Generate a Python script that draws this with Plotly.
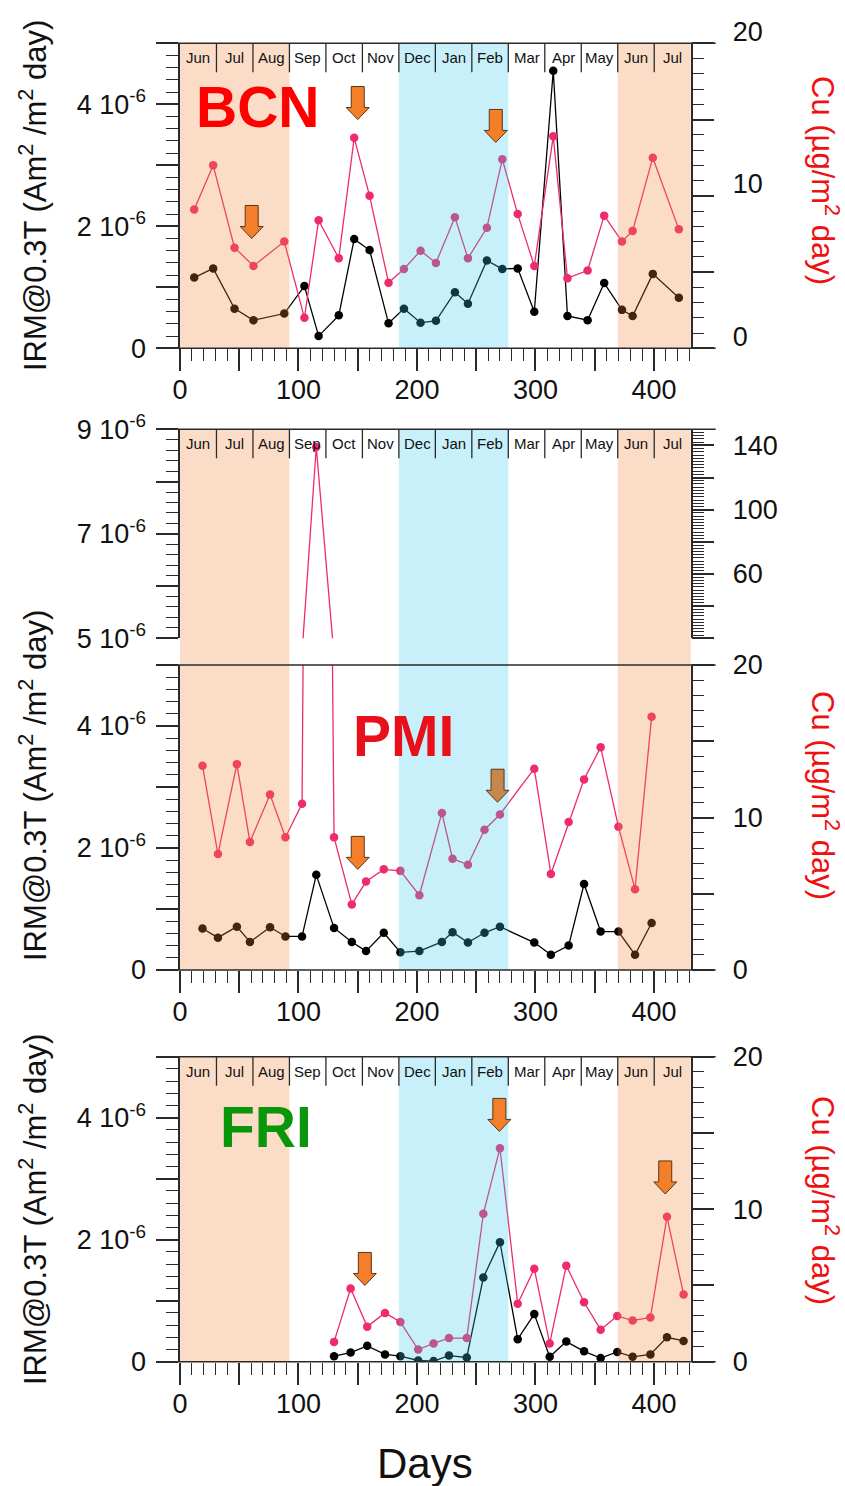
import plotly.graph_objects as go

# ---------------- data ----------------
months = ["Jun", "Jul", "Aug", "Sep", "Oct", "Nov", "Dec", "Jan", "Feb", "Mar", "Apr", "May", "Jun", "Jul"]
x_max = 431

bcn_days = [12, 28, 46, 62, 88, 105, 117, 134, 147, 160, 176, 189, 203, 216, 232, 243, 259, 272, 285, 299,
            315, 327, 344, 358, 373, 382, 399, 421]
bcn_irm = [1.16e-6, 1.31e-6, 0.65e-6, 0.46e-6, 0.57e-6, 1.02e-6, 0.20e-6, 0.54e-6, 1.79e-6, 1.61e-6,
           0.41e-6, 0.65e-6, 0.42e-6, 0.45e-6, 0.92e-6, 0.73e-6, 1.44e-6, 1.30e-6, 1.31e-6, 0.60e-6,
           4.55e-6, 0.53e-6, 0.46e-6, 1.07e-6, 0.63e-6, 0.53e-6, 1.22e-6, 0.83e-6]
bcn_cu = [9.1, 12.0, 6.6, 5.4, 7.0, 2.0, 8.4, 5.9, 13.8, 10.0, 4.3, 5.2, 6.4, 5.6, 8.6, 5.9, 7.9, 12.4,
          8.8, 5.4, 13.9, 4.6, 5.1, 8.7, 7.0, 7.7, 12.5, 7.8]

pmi_days = [19, 32, 48, 59, 76, 89, 103, 115, 130, 145, 157, 172, 186, 202, 221, 230, 243, 257, 270,
            299, 313, 328, 341, 355, 370, 384, 398]
pmi_irm = [0.68e-6, 0.53e-6, 0.71e-6, 0.46e-6, 0.70e-6, 0.55e-6, 0.55e-6, 1.56e-6, 0.69e-6, 0.46e-6,
           0.31e-6, 0.61e-6, 0.29e-6, 0.31e-6, 0.46e-6, 0.62e-6, 0.45e-6, 0.61e-6, 0.71e-6, 0.45e-6,
           0.25e-6, 0.40e-6, 1.41e-6, 0.63e-6, 0.63e-6, 0.25e-6, 0.77e-6]
pmi_cu = [13.4, 7.6, 13.5, 8.4, 11.5, 8.7, 10.9, 139.0, 8.7, 4.3, 5.8, 6.6, 6.5, 4.9, 10.3, 7.3, 6.9,
          9.2, 10.2, 13.2, 6.3, 9.7, 12.5, 14.6, 9.4, 5.3, 16.6]

fri_days = [130, 144, 158, 173, 186, 201, 214, 227, 242, 256, 270, 285, 299, 312, 326, 341, 355, 369,
            382, 397, 411, 425]
fri_irm = [0.09e-6, 0.15e-6, 0.26e-6, 0.12e-6, 0.09e-6, 0.02e-6, 0.01e-6, 0.10e-6, 0.07e-6, 1.38e-6,
           1.96e-6, 0.37e-6, 0.78e-6, 0.08e-6, 0.33e-6, 0.17e-6, 0.06e-6, 0.16e-6, 0.08e-6, 0.12e-6,
           0.40e-6, 0.34e-6]
fri_cu = [1.3, 4.8, 2.3, 3.2, 2.6, 0.8, 1.2, 1.55, 1.55, 9.7, 14.0, 3.8, 6.1, 1.2, 6.3, 3.9, 2.1, 3.0,
          2.7, 2.9, 9.5, 4.4]

# tick values / labels
x_long = [0, 50, 100, 150, 200, 250, 300, 350, 400]
x_lab = [0, 100, 200, 300, 400]
irm_long = [0, 1e-6, 2e-6, 3e-6, 4e-6, 5e-6]
irm_lab = [0, 2e-6, 4e-6]
irm_lab_text = ["0", "2 10<sup>-6</sup>", "4 10<sup>-6</sup>"]
irm_up_long = [5e-6, 6e-6, 7e-6, 8e-6, 9e-6]
irm_up_lab = [5e-6, 7e-6, 9e-6]
irm_up_lab_text = ["5 10<sup>-6</sup>", "7 10<sup>-6</sup>", "9 10<sup>-6</sup>"]
cu_long = [0, 5, 10, 15, 20]
cu_lab = [0, 10, 20]
cu_up_long = [20, 40, 60, 80, 100, 120, 140]
cu_up_lab = [60, 100, 140]

# season bands as month index ranges [start, end)
summer_bands = [(0, 3), (12, 14)]
winter_bands = [(6, 9)]

# arrow markers (day, Cu value of tip) per panel
bcn_arrows = [(60.5, 7.2), (150, 15.0), (266.5, 13.5)]
pmi_arrows = [(150, 6.6)]
pmi_arrows_brown = [(268, 11.0)]
fri_arrows = [(156, 5.0), (269.5, 15.1), (409.5, 11.0)]

# ---------------- geometry ----------------
W, H = 845, 1486
X0, X1 = 180.0, 690.7
BCN = (43.3, 348.3)
PMIU = (429.3, 638.3)
PMIL = (665.0, 970.0)
FRI = (1056.7, 1361.7)
MONTH_W = x_max / len(months)


def px(x):
    return x / W


def py(y):
    return 1 - y / H


def day_px(d):
    return X0 + d * (X1 - X0) / x_max


def cu_py(v, panel, lo=0.0, hi=20.0):
    top, bot = panel
    return bot - (v - lo) / (hi - lo) * (bot - top)


FONT = "Arial, Liberation Sans, Helvetica, sans-serif"
PINK = "#EE2B6C"
AX = "#2a2a2a"
TICKFONT = dict(family=FONT, size=27, color="#111")

fig = go.Figure()


def add_pair(days, irm, cu, xa, ya_l, ya_r):
    fig.add_trace(go.Scatter(x=days, y=cu, xaxis=xa, yaxis=ya_r, mode="lines+markers",
                             line=dict(color=PINK, width=1.3), marker=dict(size=8.5, color=PINK),
                             showlegend=False, hoverinfo="skip"))
    fig.add_trace(go.Scatter(x=days, y=irm, xaxis=xa, yaxis=ya_l, mode="lines+markers",
                             line=dict(color="black", width=1.3), marker=dict(size=8.5, color="black"),
                             showlegend=False, hoverinfo="skip"))


add_pair(bcn_days, bcn_irm, bcn_cu, "x", "y", "y2")
add_pair(pmi_days, pmi_irm, pmi_cu, "x2", "y3", "y4")
add_pair(pmi_days, pmi_irm, pmi_cu, "x3", "y5", "y6")
add_pair(fri_days, fri_irm, fri_cu, "x4", "y7", "y8")

xdom = [px(X0), px(X1)]
BASE = dict(showgrid=False, zeroline=False, automargin=False)


def xaxis(anchor, visible=True):
    return dict(BASE, domain=xdom, anchor=anchor, range=[0, x_max], showline=False, visible=visible,
                tickmode="array", tickvals=x_long, showticklabels=False,
                ticks="outside", ticklen=22, tickwidth=1.5, tickcolor=AX,
                minor=dict(dtick=10, tick0=0, ticks="outside", ticklen=12, tickwidth=1.2, tickcolor=AX))


def xlabels(over, anchor):
    return dict(BASE, overlaying=over, anchor=anchor, side="bottom", range=[0, x_max], showline=False,
                tickmode="array", tickvals=x_lab, ticktext=[str(v) for v in x_lab], ticks="",
                tickfont=TICKFONT, ticklabelstandoff=23)


def ydom(panel):
    return [py(panel[1]), py(panel[0])]


def yleft(panel, anchor, lo, hi, vals):
    return dict(BASE, domain=ydom(panel), anchor=anchor, range=[lo, hi],
                showline=True, linecolor=AX, linewidth=1.5, tickmode="array", tickvals=vals,
                showticklabels=False, ticks="outside", ticklen=22, tickwidth=1.5, tickcolor=AX,
                minor=dict(dtick=0.2e-6, tick0=0, ticks="outside", ticklen=12, tickwidth=1.2, tickcolor=AX))


def ylabels(over, anchor, lo, hi, vals, texts, side, shift=0):
    d = dict(BASE, overlaying=over, anchor=anchor, side=side, range=[lo, hi], showline=False,
             tickmode="array", tickvals=vals, ticktext=texts, ticks="", tickfont=TICKFONT,
             ticklabelstandoff=33 if side == "left" else 41)
    if shift:
        d["ticklabelshift"] = shift
    return d


def yright(over, anchor, lo, hi, vals, mdt):
    return dict(BASE, overlaying=over, side="right", anchor=anchor, range=[lo, hi],
                showline=True, linecolor=AX, linewidth=1.5, tickmode="array", tickvals=vals,
                showticklabels=False, ticks="outside", ticklen=22, tickwidth=1.5, tickcolor=AX,
                minor=dict(dtick=mdt, tick0=0, ticks="outside", ticklen=12, tickwidth=1.2, tickcolor=AX))


cu_txt = [str(v) for v in cu_lab]
cu_up_txt = [str(v) for v in cu_up_lab]

fig.update_layout(
    xaxis=xaxis("y"),
    xaxis2=xaxis("y3", visible=False),
    xaxis3=xaxis("y5"),
    xaxis4=xaxis("y7"),
    xaxis5=xlabels("x", "y"),
    xaxis6=xlabels("x3", "y5"),
    xaxis7=xlabels("x4", "y7"),
    yaxis=yleft(BCN, "x", 0, 5e-6, irm_long),
    yaxis2=yright("y", "x", 0, 20, cu_long, 1),
    yaxis3=yleft(PMIU, "x2", 5e-6, 9e-6, irm_up_long),
    yaxis4=yright("y3", "x2", 20, 150, cu_up_long, 2),
    yaxis5=yleft(PMIL, "x3", 0, 5e-6, irm_long),
    yaxis6=yright("y5", "x3", 0, 20, cu_long, 1),
    yaxis7=yleft(FRI, "x4", 0, 5e-6, irm_long),
    yaxis8=yright("y7", "x4", 0, 20, cu_long, 1),
    # label-only overlay axes
    yaxis9=ylabels("y", "x", 0, 5e-6, irm_lab, irm_lab_text, "left"),
    yaxis10=ylabels("y", "x", 0, 20, cu_lab, cu_txt, "right", shift=-12),
    yaxis11=ylabels("y3", "x2", 5e-6, 9e-6, irm_up_lab, irm_up_lab_text, "left"),
    yaxis12=ylabels("y3", "x2", 20, 150, cu_up_lab, cu_up_txt, "right"),
    yaxis13=ylabels("y5", "x3", 0, 5e-6, irm_lab, irm_lab_text, "left"),
    yaxis14=ylabels("y5", "x3", 0, 20, cu_lab, cu_txt, "right"),
    yaxis15=ylabels("y7", "x4", 0, 5e-6, irm_lab, irm_lab_text, "left"),
    yaxis16=ylabels("y7", "x4", 0, 20, cu_lab, cu_txt, "right"),
)

# invisible traces so that the label axes are drawn
for xa, ya in [("x5", "y9"), ("x5", "y10"), ("x2", "y11"), ("x2", "y12"), ("x6", "y13"), ("x6", "y14"),
               ("x7", "y15"), ("x7", "y16")]:
    fig.add_trace(go.Scatter(x=[None], y=[None], xaxis=xa, yaxis=ya, mode="markers",
                             showlegend=False, hoverinfo="skip"))

shapes = []
annotations = []

# season shading (drawn above the data, translucent, to tint it like the original)
ORANGE = "rgb(241,134,55)"
BLUE = "rgb(59,201,237)"
for top, bot in [(BCN[0], BCN[1]), (PMIU[0], PMIL[1]), (FRI[0], FRI[1])]:
    for bands, col in [(summer_bands, ORANGE), (winter_bands, BLUE)]:
        for a, b in bands:
            shapes.append(dict(type="rect", xref="paper", yref="paper", layer="above",
                               x0=px(day_px(a * MONTH_W)), x1=px(day_px(b * MONTH_W)),
                               y0=py(bot), y1=py(top), fillcolor=col, opacity=0.28, line=dict(width=0)))

# month strip
for top in [BCN[0], PMIU[0], FRI[0]]:
    for i in range(1, len(months)):
        xx = px(day_px(i * MONTH_W))
        shapes.append(dict(type="line", xref="paper", yref="paper", layer="above",
                           x0=xx, x1=xx, y0=py(top), y1=py(top + 29), line=dict(color=AX, width=1.3)))
    for i, m in enumerate(months):
        annotations.append(dict(x=px(day_px((i + 0.5) * MONTH_W)), y=py(top + 14.5), xref="paper", yref="paper",
                                text=m, showarrow=False, font=dict(family=FONT, size=15, color="#111"),
                                xanchor="center", yanchor="middle"))

# frame horizontal lines (extend over tick region)
for yy in [BCN[0], BCN[1], PMIU[0], PMIL[0], PMIL[1], FRI[0], FRI[1]]:
    shapes.append(dict(type="line", xref="paper", yref="paper", layer="above",
                       x0=px(X0 - 22), x1=px(X1 + 25), y0=py(yy), y1=py(yy), line=dict(color=AX, width=1.5)))


def arrow(d, v, panel, fill):
    tx, ty = day_px(d), cu_py(v, panel)
    pts = [(tx - 11.5, ty - 12), (tx - 6.5, ty - 12), (tx - 6.5, ty - 33), (tx + 6.5, ty - 33),
           (tx + 6.5, ty - 12), (tx + 11.5, ty - 12), (tx, ty)]
    path = "M " + " L ".join(f"{px(a):.5f},{py(b):.5f}" for a, b in pts) + " Z"
    shapes.append(dict(type="path", xref="paper", yref="paper", layer="above", path=path,
                       fillcolor=fill, line=dict(color="#5a3418", width=1)))


for d, v in bcn_arrows:
    arrow(d, v, BCN, "#F47F2A")
for d, v in pmi_arrows:
    arrow(d, v, PMIL, "#F47F2A")
for d, v in pmi_arrows_brown:
    arrow(d, v, PMIL, "#C4884E")
for d, v in fri_arrows:
    arrow(d, v, FRI, "#F47F2A")

# station labels
for txt, xx, yy, col in [("BCN", 258, 107, "#FF0000"), ("PMI", 403, 736, "#E8101A"), ("FRI", 266, 1127, "#0A960A")]:
    annotations.append(dict(x=px(xx), y=py(yy), xref="paper", yref="paper", text=f"<b>{txt}</b>",
                            showarrow=False, font=dict(family=FONT, size=57, color=col),
                            xanchor="center", yanchor="middle"))

# axis titles
left_title = "IRM@0.3T (Am<sup>2</sup> /m<sup>2</sup> day)"
right_title = "Cu (µg/m<sup>2</sup> day)"
for yy in [196, 786, 1210]:
    annotations.append(dict(x=px(33), y=py(yy), xref="paper", yref="paper", text=left_title, textangle=-90,
                            showarrow=False, font=dict(family=FONT, size=31, color="#111"),
                            xanchor="center", yanchor="middle"))
for yy in [180, 795, 1200]:
    annotations.append(dict(x=px(825), y=py(yy), xref="paper", yref="paper", text=right_title, textangle=90,
                            showarrow=False, font=dict(family=FONT, size=31, color="#F01010"),
                            xanchor="center", yanchor="middle"))
annotations.append(dict(x=px(425), y=py(1463), xref="paper", yref="paper", text="Days", showarrow=False,
                        font=dict(family=FONT, size=42, color="#111"), xanchor="center", yanchor="middle"))

fig.update_layout(shapes=shapes, annotations=annotations, width=W, height=H,
                  margin=dict(l=0, r=0, t=0, b=0), plot_bgcolor="white", paper_bgcolor="white",
                  showlegend=False)

fig.write_html("out.html")
